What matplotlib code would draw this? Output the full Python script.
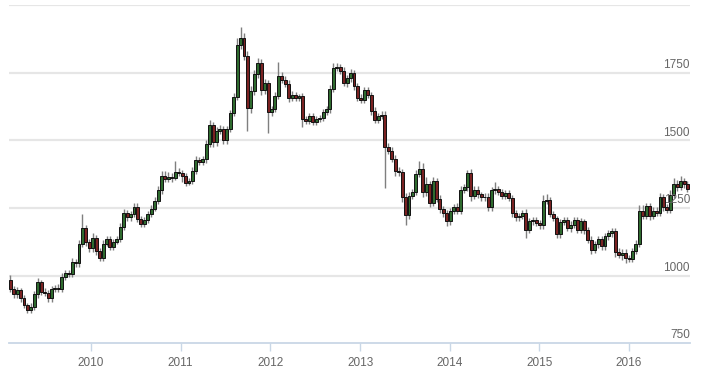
import numpy as np
import pandas as pd
import matplotlib
matplotlib.use("Agg")
import matplotlib.pyplot as plt
import matplotlib.dates as mdates
import matplotlib.transforms as mtransforms

# biweekly gold closes, Feb 2009 - Aug 2016
first_open = 985
close = [
    # 2009
    950, 930, 945, 915, 890, 872, 885, 930, 975, 940, 935, 915,
    950, 955, 950, 995, 1010, 1005, 1050, 1045, 1115, 1175, 1125, 1100,
    # 2010
    1138, 1090, 1065, 1118, 1135, 1105, 1125, 1135, 1180, 1230, 1215, 1228, 1255,
    1210, 1190, 1205, 1228, 1248, 1275, 1318, 1370, 1358, 1366, 1362, 1385, 1380,
    # 2011
    1368, 1344, 1350, 1388, 1428, 1420, 1430, 1487, 1556, 1493, 1536, 1542, 1500,
    1542, 1601, 1660, 1852, 1880, 1812, 1620, 1682, 1745, 1788, 1685, 1712, 1606,
    # 2012
    1617, 1665, 1740, 1725, 1710, 1657, 1668, 1658, 1663, 1580, 1573, 1590, 1570,
    1580, 1584, 1605, 1615, 1690, 1770, 1772, 1757, 1712, 1730, 1750, 1700, 1657,
    # 2013
    1650, 1687, 1668, 1610, 1576, 1592, 1596, 1476, 1462, 1433, 1386, 1383, 1292,
    1223, 1295, 1310, 1375, 1395, 1310, 1338, 1268, 1350, 1285, 1245, 1230, 1200,
    # 2014
    1238, 1254, 1240, 1318, 1326, 1380, 1295, 1318, 1300, 1289, 1292, 1252, 1315,
    1320, 1310, 1294, 1305, 1287, 1230, 1215, 1222, 1231, 1168, 1200, 1205, 1195,
    # 2015
    1186, 1277, 1280, 1228, 1212, 1152, 1198, 1206, 1176, 1188, 1205, 1168, 1200,
    1167, 1133, 1095, 1115, 1135, 1108, 1145, 1156, 1163, 1088, 1076, 1085, 1065,
    # 2016
    1061, 1090, 1118, 1240, 1222, 1258, 1220, 1240, 1233, 1290, 1252, 1242, 1298,
    1340, 1328, 1350, 1337, 1322,
]
# wick extents above / below the body, in dollars
wick_up = [
    18, 12, 14, 10, 12, 10, 12, 12, 14, 10, 12, 10,
    12, 10, 12, 14, 12, 12, 14, 12, 16, 51, 12, 10,
    20, 12, 10, 12, 10, 12, 10, 12, 14, 18, 14, 12, 12,
    12, 10, 10, 12, 12, 14, 14, 18, 16, 16, 12, 40, 12,
    12, 10, 12, 12, 14, 12, 12, 14, 20, 12, 12, 14, 12,
    12, 12, 14, 26, 40, 18, 20, 18, 14, 18, 12, 14, 10,
    12, 14, 50, 14, 12, 12, 14, 12, 10, 12, 10, 12, 12,
    12, 10, 12, 12, 14, 16, 16, 12, 14, 12, 14, 10, 12,
    14, 12, 12, 10, 12, 10, 12, 12, 14, 12, 12, 14, 12,
    12, 14, 12, 14, 30, 20, 26, 12, 14, 12, 12, 12, 12,
    12, 12, 14, 14, 12, 12, 14, 12, 12, 10, 12, 12, 14,
    25, 12, 12, 10, 12, 10, 12, 10, 12, 14, 12, 12, 10,
    12, 20, 20, 12, 10, 10, 12, 12, 12, 12, 10, 12, 12,
    10, 12, 12, 12, 12, 10, 12, 12, 14, 12, 12, 12, 12,
    10, 12, 14, 22, 20, 12, 12, 12, 14, 14, 12, 12, 18,
    20, 12, 20, 12, 12,
]
wick_dn = [
    12, 14, 12, 14, 12, 12, 10, 12, 12, 12, 10, 12,
    12, 10, 12, 10, 12, 12, 12, 12, 12, 10, 14, 12,
    12, 14, 12, 12, 10, 12, 12, 10, 12, 12, 14, 12, 12,
    12, 12, 12, 12, 12, 10, 12, 16, 12, 12, 14, 10, 12,
    22, 12, 10, 12, 12, 10, 12, 12, 12, 18, 12, 12, 14,
    12, 12, 12, 12, 14, 16, 85, 20, 14, 12, 18, 12, 80,
    14, 12, 12, 14, 12, 14, 12, 12, 12, 30, 12, 12, 12,
    12, 12, 12, 12, 12, 10, 12, 12, 12, 14, 12, 12, 12,
    12, 12, 12, 14, 12, 12, 12, 151, 14, 12, 18, 14, 20,
    35, 14, 12, 12, 12, 20, 14, 16, 12, 14, 12, 12, 18,
    12, 10, 12, 12, 12, 12, 20, 12, 12, 12, 12, 12, 12,
    12, 12, 12, 12, 12, 12, 14, 12, 12, 30, 12, 12, 12,
    12, 12, 12, 12, 12, 12, 12, 12, 12, 14, 12, 12, 12,
    12, 14, 14, 12, 12, 12, 12, 14, 12, 20, 12, 20, 20,
    10, 12, 12, 12, 12, 12, 14, 12, 12, 12, 14, 12, 12,
    12, 14, 12, 12, 12,
]

y_ticks = [750, 1000, 1250, 1500, 1750, 2000]
y_labels = ["750", "1000", "1250", "1500", "1750", ""]
x_years = [2010, 2011, 2012, 2013, 2014, 2015, 2016]

n = len(close)
dates = pd.date_range("2009-02-06", periods=n, freq="14D")
opens = [first_open] + close[:-1]
df = pd.DataFrame({"date": dates, "open": opens, "close": close,
                   "up": wick_up[:n], "dn": wick_dn[:n]})
df["top"] = df[["open", "close"]].max(axis=1)
df["bot"] = df[["open", "close"]].min(axis=1)
df["high"] = df["top"] + df["up"]
df["low"] = df["bot"] - df["dn"]
rising = df["close"] >= df["open"]

plt.rcParams["font.family"] = ["Liberation Sans", "DejaVu Sans"]
fig = plt.figure(figsize=(7.16, 3.85), dpi=100)
ax = fig.add_axes([0.0126, 0.109, 0.951, 0.877])

xd = mdates.date2num(df["date"])
ax.vlines(xd, df["low"], df["high"], color="#7f7f7f", linewidth=1.0, zorder=2)
body_w = 12
ax.bar(xd[rising], (df["top"] - df["bot"])[rising].clip(lower=3), bottom=df["bot"][rising],
       width=body_w, color="#2f6b2f", edgecolor="#111111", linewidth=0.7, zorder=3)
ax.bar(xd[~rising], (df["top"] - df["bot"])[~rising].clip(lower=3), bottom=df["bot"][~rising],
       width=body_w, color="#7a2222", edgecolor="#111111", linewidth=0.7, zorder=3)

ax.set_ylim(750, 2000)
ax.set_xlim(mdates.date2num(pd.Timestamp("2009-02-01")), mdates.date2num(pd.Timestamp("2016-09-05")))

for v in y_ticks[1:]:
    ax.axhline(v, color="#e6e6e6", linewidth=1.6, zorder=1)
trans = mtransforms.blended_transform_factory(ax.transAxes, ax.transData)
for v, lab in zip(y_ticks, y_labels):
    if lab:
        ax.text(1.0, v + 6, lab, transform=trans, ha="right", va="bottom",
                fontsize=8.5, color="#666666")

ax.set_yticks([])
ax.set_xticks([mdates.date2num(pd.Timestamp(f"{y}-01-01")) for y in x_years])
ax.set_xticklabels([str(y) for y in x_years], fontsize=8.5, color="#666666")
ax.tick_params(axis="x", length=6, width=1, color="#c9d7e6", pad=4)
for s in ["top", "right", "left"]:
    ax.spines[s].set_visible(False)
ax.spines["bottom"].set_color("#c9d7e6")
ax.spines["bottom"].set_linewidth(1.3)

fig.savefig("out.png", dpi=100, facecolor="white")
